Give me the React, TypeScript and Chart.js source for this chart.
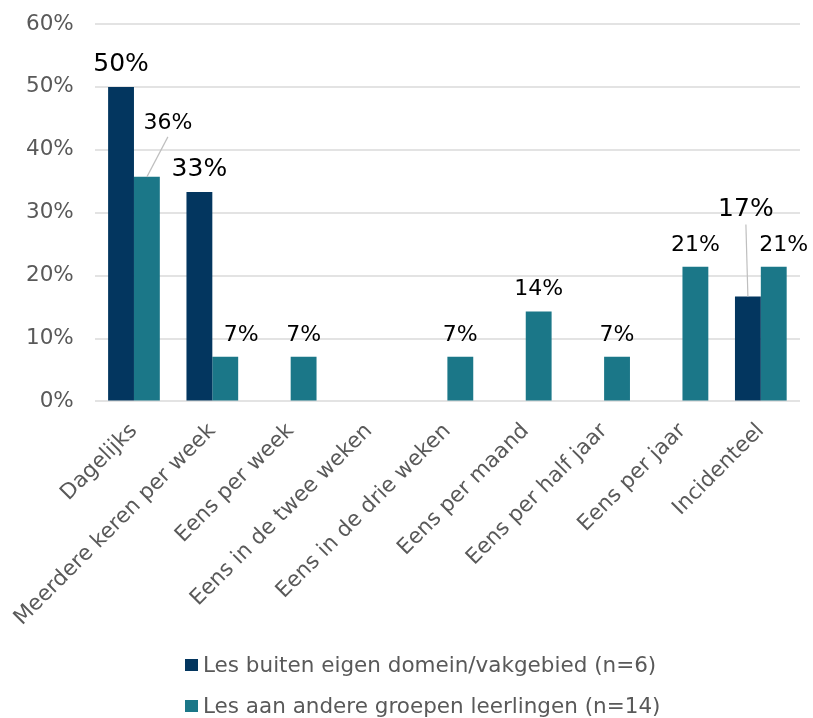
import React, { useEffect, useRef } from "react";
import { Chart, registerables } from "chart.js";

Chart.register(...registerables);

const categories = [
  "Dagelijks",
  "Meerdere keren per week",
  "Eens per week",
  "Eens in de twee weken",
  "Eens in de drie weken",
  "Eens per maand",
  "Eens per half jaar",
  "Eens per jaar",
  "Incidenteel",
];

const seriesNames = [
  "Les buiten eigen domein/vakgebied (n=6)",
  "Les aan andere groepen leerlingen (n=14)",
];

const buitenDomein = [50, 33.3, 0, 0, 0, 0, 0, 0, 16.7];
const andereGroepen = [35.7, 7.1, 7.1, 0, 7.1, 14.3, 7.1, 21.4, 21.4];

const yTicks = [0, 10, 20, 30, 40, 50, 60];

const NAVY = "#03365f";
const TEAL = "#1b7788";
const FONT = "'DejaVu Sans', Verdana, sans-serif";

// label adjustments (pixels) for crowded labels: key "dataset:index"
const labelShift: Record<string, { dx: number; dy: number; leader?: boolean }> = {
  "1:0": { dx: 21, dy: -32, leader: true },
  "1:1": { dx: 16, dy: 0 },
  "1:8": { dx: 10, dy: 0 },
  "0:8": { dx: -2, dy: -64, leader: true },
};

const dataLabelPlugin = {
  id: "dataLabels",
  afterDatasetsDraw(chart: any) {
    const ctx = chart.ctx;
    ctx.save();
    chart.data.datasets.forEach((ds: any, di: number) => {
      const meta = chart.getDatasetMeta(di);
      meta.data.forEach((bar: any, i: number) => {
        const v = ds.data[i];
        if (!v) return;
        const shift = labelShift[`${di}:${i}`] || { dx: 0, dy: 0 };
        const x = bar.x + shift.dx;
        const y = bar.y - 16 + shift.dy;
        ctx.font = `${di === 0 ? 25 : 22}px ${FONT}`;
        ctx.fillStyle = "#000000";
        ctx.textAlign = "center";
        ctx.textBaseline = "alphabetic";
        ctx.fillText(`${Math.round(v)}%`, x, y);
        if (shift.leader) {
          ctx.strokeStyle = "#bfbfbf";
          ctx.lineWidth = 1.2;
          ctx.beginPath();
          ctx.moveTo(x, y + 8);
          ctx.lineTo(bar.x, bar.y);
          ctx.stroke();
        }
      });
    });
    ctx.restore();
  },
};

// stacked legend, left-aligned block under the chart
const LEGEND_LEFT = 185;
const LEGEND_FIRST_ROW = 665;
const LEGEND_ROW_GAP = 41;

const legendPlugin = {
  id: "stackedLegend",
  afterDraw(chart: any) {
    const ctx = chart.ctx;
    ctx.save();
    ctx.font = `21.5px ${FONT}`;
    ctx.textAlign = "left";
    ctx.textBaseline = "middle";
    chart.data.datasets.forEach((ds: any, i: number) => {
      const cy = LEGEND_FIRST_ROW + i * LEGEND_ROW_GAP;
      ctx.fillStyle = ds.backgroundColor;
      ctx.fillRect(LEGEND_LEFT, cy - 6, 13, 12);
      ctx.fillStyle = "#595959";
      ctx.fillText(ds.label, LEGEND_LEFT + 18, cy + 1);
    });
    ctx.restore();
  },
};

export default function App() {
  const ref = useRef<HTMLCanvasElement>(null);
  useEffect(() => {
    if (!ref.current) return;
    const chart = new Chart(ref.current, {
      type: "bar",
      data: {
        labels: categories,
        datasets: [
          {
            label: seriesNames[0],
            data: buitenDomein,
            backgroundColor: NAVY,
            categoryPercentage: 0.66,
            barPercentage: 1,
          },
          {
            label: seriesNames[1],
            data: andereGroepen,
            backgroundColor: TEAL,
            categoryPercentage: 0.66,
            barPercentage: 1,
          },
        ],
      },
      options: {
        animation: false,
        responsive: true,
        maintainAspectRatio: false,
        layout: { padding: { top: 24, left: 5, right: 13, bottom: 78 } },
        scales: {
          x: {
            grid: { display: false },
            border: { display: false },
            afterFit: (scale: any) => {
              scale.paddingLeft = 0;
            },
            ticks: {
              autoSkip: false,
              minRotation: 45,
              maxRotation: 45,
              color: "#595959",
              font: { family: FONT, size: 21.5 },
              padding: 9,
            },
          },
          y: {
            min: 0,
            max: 60,
            afterBuildTicks: (axis: any) => {
              axis.ticks = yTicks.map((v) => ({ value: v }));
            },
            afterFit: (scale: any) => {
              scale.paddingTop = 0;
              scale.paddingBottom = 0;
            },
            grid: { color: "#e3e3e3", lineWidth: 2, drawTicks: false },
            border: { display: false },
            ticks: {
              color: "#595959",
              font: { family: FONT, size: 21.5 },
              padding: 21,
              callback: (v: any) => `${v}%`,
            },
          },
        },
        plugins: {
          legend: { display: false },
          tooltip: { enabled: false },
        },
      },
      plugins: [dataLabelPlugin, legendPlugin],
    });
    return () => chart.destroy();
  }, []);
  return (
    <div style={{ position: "fixed", left: 0, top: 0, width: 813, height: 718 }}>
      <canvas ref={ref} />
    </div>
  );
}
